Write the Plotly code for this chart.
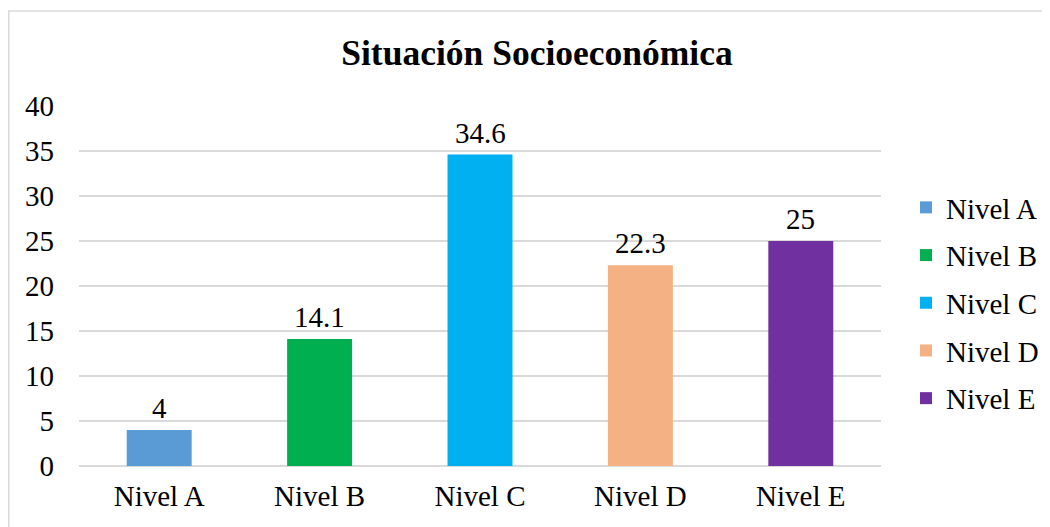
import plotly.graph_objects as go

categories = ["Nivel A", "Nivel B", "Nivel C", "Nivel D", "Nivel E"]
values = [4, 14.1, 34.6, 22.3, 25]
labels = ["4", "14.1", "34.6", "22.3", "25"]
colors = ["#5B9BD5", "#00B050", "#00B0F0", "#F4B183", "#7030A0"]
y_ticks = [0, 5, 10, 15, 20, 25, 30, 35, 40]

FONT = "Liberation Serif, Times New Roman, serif"
FS = 29

W, H = 1042, 519
L, R, T, B = 71, 169, 98, 61
pw = W - L - R
ph = H - T - B

fig = go.Figure()
for c, v, col in zip(categories, values, colors):
    fig.add_trace(go.Bar(
        x=[c], y=[v], name=c, legendgroup=c,
        marker=dict(color=col, line=dict(width=0)),
    ))

annotations = [
    dict(x=c, y=v, xref="x", yref="y", text=t, showarrow=False,
         yanchor="bottom", xanchor="center", yshift=4,
         font=dict(family=FONT, size=FS, color="#000000"))
    for c, v, t in zip(categories, values, labels)
]

fig.update_layout(
    width=W, height=H,
    margin=dict(l=L, r=R, t=T, b=B, pad=0),
    paper_bgcolor="white", plot_bgcolor="white",
    barmode="overlay", bargap=0.595,
    font=dict(family=FONT, size=FS, color="#000000"),
    title=dict(text="<b>Situación Socioeconómica</b>", x=529 / W, xref="container",
               xanchor="center", y=1 - 45 / H, yref="container", yanchor="middle",
               font=dict(family=FONT, size=35.5, color="#000000")),
    legend=dict(x=898 / W, xref="container", xanchor="left",
                y=1 - 174 / H, yref="container", yanchor="top",
                font=dict(family=FONT, size=FS), tracegroupgap=7,
                itemwidth=30, bgcolor="rgba(0,0,0,0)"),
    showlegend=True,
    annotations=annotations,
    xaxis=dict(categoryorder="array", categoryarray=categories, showgrid=False,
               showline=False, ticks="", ticklabelstandoff=10,
               tickfont=dict(family=FONT, size=FS)),
    yaxis=dict(range=[0, 40], tickvals=y_ticks, showgrid=True, gridcolor="#D9D9D9",
               gridwidth=1.5, zeroline=True, zerolinecolor="#D9D9D9", zerolinewidth=1.5,
               showline=False, ticks="", ticklabelstandoff=24,
               tickfont=dict(family=FONT, size=FS)),
    shapes=[dict(type="rect", xref="paper", yref="paper",
                 x0=(0.75 - L) / pw, x1=1.4, y0=-0.5, y1=(H - B - 3) / ph,
                 line=dict(color="#D9D9D9", width=1.5), fillcolor="rgba(0,0,0,0)", layer="below")],
)

fig.write_html("out.html")
